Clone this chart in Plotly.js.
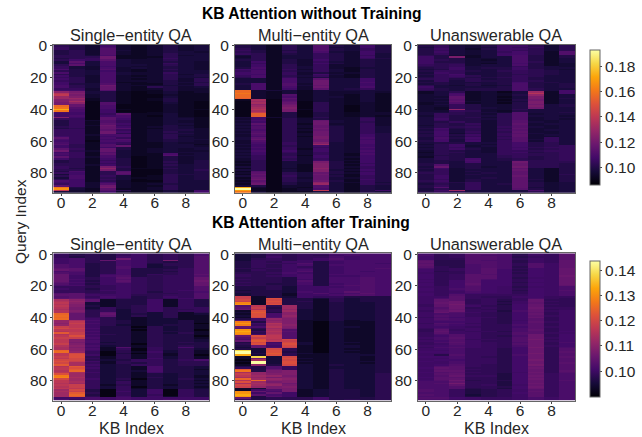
<!DOCTYPE html>
<html><head><meta charset="utf-8">
<script src="https://cdn.plot.ly/plotly-3.0.1.min.js"></script>
<style>html,body{margin:0;padding:0;background:#fff}#c{width:642px;height:437px}</style></head>
<body><div id="c"></div>
<script>
// Each string is one query row, each character one KB column, a base-36 reading of the cell's colour level.
const topSingle = ("5427212423 6428212423 6429212423 4529312423 4529212432 4529212533 5538112523 555c111533 456c112633 576a322533 "+
"3a38322432 3838322632 5a38332532 6327322432 6328232432 8429212532 5437212433 8438322633 5438322524 7428212534 "+
"6528222533 7528212525 6528222425 7528112434 7439211425 853c222335 853b215423 662b212422 7729211422 fd34101312 "+
"ie34101311 jd24100211 ge24100311 gg14101411 ef14101411 eh04100410 df09100310 db09000210 ob08000210 p908000210 "+
"t807100211 p807000210 8707101210 7706a11310 7807810310 e70a811321 660a711331 4629611321 4619611321 461a711331 "+
"462c611421 561b712431 451b911432 661a612442 661c712532 661c512442 6628812532 7617812522 a618612532 8617912433 "+
"7608812432 8617611322 9519511331 7519b11332 7517411333 a61b412323 c52b312322 7619312333 861a311823 7618311933 "+
"a628301423 7517401423 4516401424 4517401524 5516401424 5527401534 651d501434 641f411534 551d400435 4815900434 "+
"6715a00434 3715900544 5816301534 3815311534 5716301534 8715200533 7727211533 6729212433 a72c211533 p42d212533 "+
"r31a112533 j219511327 3217211327").split(" ");
const topMulti = ("4315394374 4315393374 5315394364 6414394364 5415383274 6514364273 3513364263 2513364273 3513364264 4514274243 "+
"3714263243 3614274243 3715262243 3715362243 4815362133 7716263143 6815363143 7816242243 7716273143 6815362143 "+
"5816242143 33183a3373 33183c3373 33183c3383 48192c3373 38193b3373 38182c3383 38172a3463 o233133333 o213132232 "+
"p213132231 o219132131 o218133131 n21a132131 1h09132131 0g0a032131 0h0b052121 0f0c052121 0g0d052021 0h0e052021 "+
"0i0d152021 0h0d052021 0j04042122 0n04042122 0n04042121 3724152252 2705242262 38052b3262 27052c3252 3a051c2262 "+
"28052b3262 39052b4263 29051c4263 38052b4263 29051c4263 3a052c4264 29052c4274 28051d4274 3a052d4284 3b052c4274 "+
"29052c4284 28062e3284 37062g3274 2705273274 3806263284 2706173274 3807273284 2706263274 3705263184 2605173174 "+
"3606273274 2605263174 2506273274 15032d4174 25032e4264 15031e4174 35031e4264 15021f4164 35031e3274 19031e4164 "+
"2a053b4274 1b053c3174 3a063b4164 1b052b3264 2c053b3174 1a053c4164 2b042f3263 1c042g3164 3402293143 t202193143 "+
"z101283143 s1012j3147 p201133143").split(" ");
const topNone = ("4632477525 3632376625 4731477525 4632376525 473236851a 463237851a 5421379414 74f1339414 7442239413 7542139413 "+
"7442239513 7552138412 6562339412 5563336432 4573447433 3473347532 4664356543 3763346543 4683345543 3675346533 "+
"4664456433 5645346433 3635446533 4433348443 3434349434 5324239434 7333349434 6434449533 5434449538 1351203i18 "+
"1381213k18 2391214h13 22c1203f13 23c1213f14 22b1204e13 23c2213f13 12a1204f13 1364224e34 2264224f34 2164324e33 "+
"21h4225333 2265214333 335432a334 365425a233 264435a332 364525a233 374435a232 364425b223 346425b323 354625c233 "+
"254525b223 355626b323 484525c223 373526b233 483625c223 382526b323 484726c233 473625c223 394826b263 383725b363 "+
"483826b263 3443368453 2573268453 3572368456 2563267566 3574268456 2543266566 1553267456 2543366556 2443356556 "+
"1543356456 3548345456 3449346556 343833e555 443433d554 4a3433d554 3d3423e554 472433c314 362333d314 462433c314 "+
"562343c314 462433c315 472333d314 472343c314 462433c414 572433c314 464633c423 353634c423 463633c423 4a3633c323 "+
"353633b423 37i3333923 4653333523").split(" ");
const lowSingle = ("5343564547 5443564547 5343664548 6743b64548 674a764c48 6744764348 6734763448 8734762448 8734862348 9934833358 "+
"a934733458 7834733358 8734733458 a736735459 a637834558 a64695455a a74685455a a63695455b 974685455a 863665455a "+
"774565455a 5545654558 6535654558 5546654568 5545653557 8955654458 9966644558 8957634658 9a66534568 he91336153 "+
"if91336153 je21336153 id21336153 jd31346153 ic25346455 hc35246445 id45246455 ic49242414 oa4a232412 pa49242411 "+
"oa54212411 pa64212211 fh74312231 fj64312231 ek74312230 fj64212331 kj63304231 lk73314231 jj63304230 ij73314331 "+
"nk63314241 ik74314331 jm63314330 kk73314331 jd63314332 jd73314332 jc72314343 kd63304333 ie72314343 hd61815373 "+
"he71505342 oe61405241 pf50416241 jl50305141 jm60415140 km41415241 jl51416241 ll42355357 mk61455344 lh51435344 "+
"nh62355344 in52317332 jm62317332 jn52317331 io52327332 jh62316332 mg52313232 rg52313231 sh52314231 lg62403242 "+
"jg52313231 jh52513232 ig52513231 jk51413132 ik52503231 jj52513232 gl30526053 hk30626053 gn40526053 go30525053 "+
"gn40626153 6676766666 7576766766").split(" ");
const lowMulti = ("2354557777 2354546777 2364557677 2454568677 2554667777 3546636777 3555836776 3546737777 3546536777 4456636778 "+
"3546736777 3446836767 4457636777 5446737777 5456736677 4443737787 5443637787 4443837787 5443737787 4433736787 "+
"5443637887 3342666787 3342667787 2332667787 3332767987 2331686797 2331667887 k132655333 k1m3324233 l1l3314233 "+
"k1m3414233 s1l3313223 u1m3313223 8j4g313223 9k3g313223 ai4f213223 1m4g213223 2n3e213223 1m7e213223 2m7f213223 "+
"1l8e213223 36fd213223 86ed113123 r3fd102113 u6id102113 r5he102113 a7id102213 94gc102113 u3h8102113 v5i9102113 "+
"u4h8102113 s6i8102113 amj8102113 8kj8102113 7mil102113 anjk102113 3l6l202213 4m7m202113 3a6l102213 2a7k102213 "+
"32l4102113 x2m4102213 z2m3102113 z3n4212213 v2m4112223 1x2l112213 1b2m212213 0h2l112213 1z2m212223 0z2m112213 "+
"1f3l213223 3385212223 5385212223 n3a5213223 q3cd213223 hfcd213223 kfdd213224 jgfc213224 hfcd213224 ogfe213224 "+
"ioed213224 mgcd213224 hheb213224 lgfc213224 kfcd213224 12cc213224 168c123324 ta7c123324 u6a6123324 v976123324 "+
"u386123324 a344463334 5344463434").split(" ");
const lowNone = ("6348872549 7348773549 6348872449 6338873549 922877254a a22887254a 922887385a a22787385a 932787285a 734797365b "+
"634796265b 623796365b 533796265b 634986365b 634996365c 634996255b 534976365b 636966365b 536966255b 636a66365b "+
"636966365a 5468652557 6478653657 6468652658 5457653657 6466553657 6484444657 5594335644 5794434743 5a93424b33 "+
"5ac3415b43 5bc3425a33 4ad4416b43 4ac5326b33 58c3426c44 59b4326b34 4ac4417b45 5b85326a35 5774326b35 5874326a45 "+
"4765426b35 5875326935 5775325935 5665326a45 4874326935 5765337935 5654336945 4755337935 3945337a35 3a54427936 "+
"4955338945 4785338c36 4685327c36 5795338c46 4784438d36 5685338c46 4795437c37 4585438c36 5675437c46 4785436d37 "+
"5674426c38 5574426c38 6674426c39 5574426d38 5284427c38 6674326c39 5574426c38 5664426d38 6574426c38 5574426c39 "+
"5684326d38 5894326b38 6a93326c38 5994326b38 5aa3326b39 6894325c38 59a3316b47 58b4416c47 6993316b47 59a3316c47 "+
"68c2326b48 77a3316b47 78d3316c47 77a3415b47 7783326c47 7782316b47 8741235947 8741235a47 7741236947 8740235947 "+
"7741235947 8865445757 7755445757").split(" ");

// What each reading level stands for, as [level, share of the colour bar] pairs, one reading scale per group of panels.
const scaleTop = [[0,.04],[1,.06],[2,.085],[3,.105],[4,.125],[5,.15],[9,.24],[14,.35],[20,.54],[35,1]];
const scaleTopNone = [[0,.05],[1,.07],[2,.09],[3,.11],[4,.13],[5,.15],[7,.19],[9,.22],[12,.27],[14,.31],[18,.42],[20,.48],[35,1]];
const scaleLow = [[0,.03],[1,.07],[2,.1],[3,.125],[4,.15],[5,.17],[9,.26],[14,.37],[19,.5],[24,.65],[30,.76],[35,1]];
const scaleLowNone = [[0,.1],[1,.12],[2,.14],[3,.16],[4,.175],[5,.19],[6,.2],[7,.22],[8,.24],[9,.255],[10,.27],[11,.285],[12,.3],[13,.32],[35,1]];

const panelTitles = ["Single\u2212entity QA", "Multi\u2212entity QA", "Unanswerable QA"];
const rowTitles = ["KB Attention without Training", "KB Attention after Training"];
const xLabel = "KB Index", yLabel = "Query Index";
const xTicks = [0, 2, 4, 6, 8], yTicks = [0, 20, 40, 60, 80];
const cbTicksTop = [0.10, 0.12, 0.14, 0.16, 0.18], cbTicksLow = [0.10, 0.11, 0.12, 0.13, 0.14];
const rangeTop = [0.086, 0.193], rangeLow = [0.0899, 0.1438];

const W = 642, H = 437;
const fx = p => p / W, fy = p => 1 - p / H;
const inferno = [[0,'#000004'],[0.1,'#160b39'],[0.2,'#420a68'],[0.3,'#6a176e'],[0.4,'#932667'],[0.5,'#bc3754'],[0.6,'#dd513a'],[0.7,'#f37819'],[0.8,'#fca50a'],[0.9,'#f6d746'],[1,'#fcffa4']];
const share = (scale, L) => {
  for (let i = 1; i < scale.length; i++) if (L <= scale[i][0]) {
    const a = scale[i-1], b = scale[i];
    return a[1] + (L - a[0]) / (b[0] - a[0]) * (b[1] - a[1]);
  }
  return 1;
};
const decode = (rows, rng, scale) => rows.map(r => r.split('').map(c => rng[0] + share(scale, parseInt(c, 36)) * (rng[1] - rng[0])));

const txt = '#262626', FS = 15.5;
const cols = [[53.3, 209.3], [235, 391], [418, 575]];
const rowsY = [[45, 192.7], [253.3, 400.7]];
const sets = [[topSingle, topMulti, topNone], [lowSingle, lowMulti, lowNone]];
const scales = [[scaleTop, scaleTop, scaleTopNone], [scaleLow, scaleLow, scaleLowNone]];
const ranges = [rangeTop, rangeLow];

const data = [], layout = {
  width: W, height: H, margin: {l:0, r:0, t:0, b:0, pad:0}, paper_bgcolor:'#fff', plot_bgcolor:'#fff',
  showlegend:false, annotations: [],
  font: {family:'"Liberation Sans", Arial, sans-serif', color: txt, size: FS},
  coloraxis: {colorscale: inferno, cmin: rangeTop[0], cmax: rangeTop[1],
    colorbar: {thickness:10, thicknessmode:'pixels', len:135/H, lenmode:'fraction', x:fx(589.5), xanchor:'left', y:fy(50), yanchor:'top', xpad:0, ypad:0,
      outlinecolor:'#666', outlinewidth:1, ticks:'outside', ticklen:2, tickcolor:'#444', tickvals:cbTicksTop, ticktext:cbTicksTop.map(v=>v.toFixed(2)), tickfont:{size:FS, color:txt}}},
  coloraxis2: {colorscale: inferno, cmin: rangeLow[0], cmax: rangeLow[1],
    colorbar: {thickness:10, thicknessmode:'pixels', len:135.5/H, lenmode:'fraction', x:fx(589.5), xanchor:'left', y:fy(260.7), yanchor:'top', xpad:0, ypad:0,
      outlinecolor:'#666', outlinewidth:1, ticks:'outside', ticklen:2, tickcolor:'#444', tickvals:cbTicksLow, ticktext:cbTicksLow.map(v=>v.toFixed(2)), tickfont:{size:FS, color:txt}}}
};
let n = 0;
for (let r = 0; r < 2; r++) for (let c = 0; c < 3; c++) {
  n++;
  const sx = n === 1 ? '' : n;
  data.push({type:'heatmap', z: decode(sets[r][c], ranges[r], scales[r][c]), xaxis:'x'+sx, yaxis:'y'+sx, coloraxis: r ? 'coloraxis2' : 'coloraxis', zsmooth:false});
  const ax = {showgrid:false, zeroline:false, showline:true, mirror:true, linecolor:'#666', linewidth:1, ticks:'outside', ticklen:2, tickcolor:'#444', tickfont:{size:FS, color:txt}};
  layout['xaxis'+sx] = Object.assign({}, ax, {domain:[fx(cols[c][0]), fx(cols[c][1])], anchor:'y'+sx, range:[-0.5, 9.5], tickvals:xTicks, ticktext:xTicks.map(String), ticklabelstandoff:-6});
  layout['yaxis'+sx] = Object.assign({}, ax, {domain:[fy(rowsY[r][1]), fy(rowsY[r][0])], anchor:'x'+sx, range:[92.5, -0.5], tickvals:yTicks, ticktext:yTicks.map(String)});
  layout.annotations.push({xref:'paper', yref:'paper', x:fx((cols[c][0]+cols[c][1])/2), y:fy(r ? 244 : 35), text:panelTitles[c], showarrow:false, xanchor:'center', yanchor:'middle', font:{size:16.3, color:txt}});
  if (r) layout.annotations.push({xref:'paper', yref:'paper', x:fx((cols[c][0]+cols[c][1])/2), y:fy(428), text:xLabel, showarrow:false, xanchor:'center', yanchor:'middle', font:{size:16, color:txt}});
}
layout.annotations.push({xref:'paper', yref:'paper', x:fx(311.5), y:fy(13), text:'<b>'+rowTitles[0]+'</b>', showarrow:false, xanchor:'center', yanchor:'middle', font:{size:15.6, color:'#000'}});
layout.annotations.push({xref:'paper', yref:'paper', x:fx(311), y:fy(222), text:'<b>'+rowTitles[1]+'</b>', showarrow:false, xanchor:'center', yanchor:'middle', font:{size:15.6, color:'#000'}});
layout.annotations.push({xref:'paper', yref:'paper', x:fx(20), y:fy(222), text:yLabel, textangle:-90, showarrow:false, xanchor:'center', yanchor:'middle', font:{size:15.5, color:txt}});
Plotly.newPlot('c', data, layout, {staticPlot:true, displayModeBar:false});
</script></body></html>
